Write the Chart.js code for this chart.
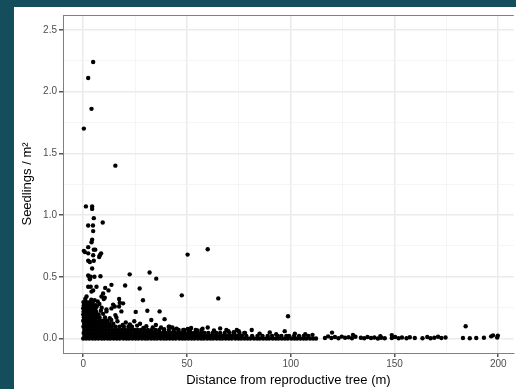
<!DOCTYPE html>
<html>
<head>
<meta charset="utf-8">
<script src="https://cdn.jsdelivr.net/npm/chart.js@4.4.1/dist/chart.umd.min.js"></script>
<style>
  html, body { margin: 0; padding: 0; background: #144e5c; width: 516px; height: 389px; overflow: hidden; }
  #panel { position: absolute; left: 14px; top: 7px; width: 502px; height: 382px; background: #ffffff; }
  canvas { display: block; }
</style>
</head>
<body>
<div id="panel"><canvas id="grafico" width="502" height="382"></canvas></div>
<script>
// eixos
const xGrid = [0, 25, 50, 75, 100, 125, 150, 175, 200];
const xLabels = [0, 50, 100, 150, 200];
const yGrid = [0, 0.25, 0.5, 0.75, 1, 1.25, 1.5, 1.75, 2, 2.25, 2.5];
const yLabels = [0, 0.5, 1, 1.5, 2, 2.5];

// pontos isolados (distância, plântulas/m2)
const outX = [4.8, 2.4, 4.0, 0.3, 15.5, 1.3, 4.3, 4.3, 5.1, 9.4,
              2.4, 4.7, 4.8, 4.3, 4.0, 2.4, 0.3, 0.8, 5.1, 5.8,
              2.4, 4.8, 8.0, 8.6, 7.7, 60.0, 50.3, 2.4, 5.1, 3.2,
              4.3, 2.9, 2.4, 3.6, 5.4, 8.3, 3.2, 22.4, 32.0, 35.2,
              20.2, 27.2, 28.8, 47.5, 13.6, 10.6, 12.2, 6.4, 2.4, 3.6,
              4.0, 4.8, 1.6, 8.8, 9.6, 10.4, 9.9, 17.3, 19.2, 11.2,
              13.6, 14.4, 17.3, 18.4, 15.5, 65.1, 25.3, 30.9, 36.8, 39.2,
              32.8, 41.2, 27.4, 30.4, 98.7, 184.3, 9.6, 8.5, 10.5, 12.8,
              16.5, 20.5, 22.5, 24.6, 35.0, 37.5, 45.0, 48.2, 60.0, 66.0,
              50.4, 55.0, 70.0, 72.5, 78.0, 81.2, 89.9, 97.1, 119.9, 102.0,
              107.0, 130.0, 148.7, 143.2, 197.5, 7.0, 6.5, 17.6, 15.2, 16.0,
              85.0, 93.0, 110.5, 11.2, 41.6, 1.0, 3.9, 5.5, 7.8, 8.9,
              11.5, 13.5, 19.0, 23.5, 26.0, 29.0, 33.5, 39.0, 43.0, 52.0,
              57.5, 63.0, 69.0, 75.0, 74.0];
const outY = [2.24, 2.11, 1.86, 1.70, 1.40, 1.07, 1.07, 1.05, 0.975, 0.94,
              0.915, 0.915, 0.87, 0.80, 0.78, 0.74, 0.71, 0.70, 0.72, 0.72,
              0.69, 0.675, 0.675, 0.69, 0.66, 0.723, 0.68, 0.63, 0.63, 0.62,
              0.567, 0.50, 0.51, 0.50, 0.50, 0.505, 0.48, 0.52, 0.535, 0.485,
              0.43, 0.405, 0.31, 0.35, 0.435, 0.41, 0.39, 0.42, 0.42, 0.42,
              0.38, 0.39, 0.34, 0.34, 0.365, 0.33, 0.32, 0.32, 0.285, 0.235,
              0.244, 0.275, 0.26, 0.22, 0.19, 0.325, 0.216, 0.225, 0.22, 0.157,
              0.15, 0.095, 0.12, 0.10, 0.18, 0.10, 0.20, 0.225, 0.17, 0.165,
              0.14, 0.13, 0.115, 0.14, 0.11, 0.09, 0.08, 0.07, 0.09, 0.082,
              0.077, 0.065, 0.06, 0.052, 0.045, 0.069, 0.05, 0.06, 0.048, 0.04,
              0.035, 0.03, 0.028, 0.02, 0.026, 0.30, 0.26, 0.29, 0.26, 0.17,
              0.04, 0.035, 0.03, 0.22, 0.095, 0.32, 0.315, 0.31, 0.28, 0.25,
              0.14, 0.15, 0.11, 0.095, 0.105, 0.085, 0.09, 0.075, 0.09, 0.085,
              0.08, 0.065, 0.07, 0.06, 0.07];

// faixa densa perto de zero: nível de plântulas e distâncias de cada nível
const bandLevels = [0, 0.022, 0.045, 0.07, 0.095, 0.12, 0.145, 0.17, 0.195, 0.22, 0.245, 0.27, 0.295];
const bandX = [
  [0, 1.4, 2.9, 4.5, 5.8, 7.3, 8.9, 10.2, 11.8, 13.1, 14.7, 16.2, 17.6, 19.3, 20.8, 22.1, 23.7, 25.2, 26.6, 28.3,
   29.8, 31.1, 32.7, 34.2, 35.6, 37.3, 38.8, 40.1, 41.7, 43.2, 44.6, 46.3, 47.8, 49.1, 50.7, 52.2, 53.6, 55.3, 56.8, 58.1,
   59.7, 61.2, 62.6, 64.3, 65.8, 67.1, 68.7, 70.2, 71.6, 73.3, 74.8, 76.1, 77.7, 79.2, 80.6, 82.3, 83.8, 85.1, 86.7, 88.2,
   89.6, 91.3, 92.8, 94.1, 95.7, 97.2, 98.6, 100.3, 101.8, 103.1, 104.7, 106.2, 107.6, 109.3, 110.8, 112.2],
  [0.6, 2.1, 3.7, 5.2, 6.6, 8.1, 9.6, 11.0, 12.5, 14.0, 15.5, 17.0, 18.4, 19.9, 21.4, 22.9, 24.4, 25.8, 27.3, 28.8,
   30.3, 31.8, 33.2, 34.7, 36.2, 37.7, 39.2, 40.6, 42.1, 43.6, 45.1, 46.6, 48.0, 49.5, 51.0, 52.5, 54.0, 55.4, 56.9, 58.4,
   59.9, 61.4, 62.8, 64.3, 65.8, 67.3, 68.8, 70.2, 71.7, 73.2, 74.6, 76.5, 78.6, 81.4, 84.0, 86.4, 88.9, 91.0, 93.7, 95.5,
   97.9, 99.2, 101.6, 104.0, 106.3, 108.5],
  [0.2, 1.7, 3.2, 4.8, 6.3, 7.9, 9.3, 10.8, 12.4, 13.9, 15.4, 16.9, 18.5, 20.0, 21.5, 23.0, 24.6, 26.1, 27.6, 29.1,
   30.7, 32.2, 33.7, 35.2, 36.8, 38.3, 39.8, 41.4, 42.9, 44.4, 46.0, 47.5, 49.0, 50.6, 52.1, 53.7, 55.2, 56.8, 58.5, 60.3,
   62.4, 64.1, 66.0, 68.2, 70.4, 72.9, 75.3, 77.6],
  [0.5, 2.0, 3.5, 5.0, 6.5, 8.0, 9.5, 11.0, 12.5, 14.0, 15.5, 17.0, 18.6, 20.1, 21.6, 23.1, 24.7, 26.2, 27.8, 29.5,
   31.2, 33.0, 34.8, 36.6, 38.9, 41.3, 43.6, 46.0, 48.7, 51.5, 54.2, 57.0],
  [0.1, 1.6, 3.1, 4.6, 6.1, 7.6, 9.1, 10.6, 12.1, 13.8, 15.6, 17.5, 19.6, 21.8],
  [0.4, 1.9, 3.4, 4.9, 6.4, 7.9, 9.4, 11.0, 12.8, 14.5],
  [0, 1.5, 3.0, 4.5, 6.0, 7.6, 9.2, 10.9],
  [0.3, 1.8, 3.3, 4.8, 6.3, 7.9],
  [0, 1.5, 3.0, 4.5, 6.0, 7.4],
  [0.2, 1.7, 3.2, 4.7, 6.2],
  [0, 1.5, 3.0, 4.5, 5.9],
  [0.3, 1.8, 3.3, 4.8, 6.0],
  [0.1, 1.6, 3.1, 4.6]
];

// cauda longe da árvore
const tailX = [116.5, 118.0, 119.6, 121.3, 123.0, 124.6, 126.2, 127.9, 129.5, 131.2,
               133.8, 135.4, 137.0, 138.7, 140.3, 142.0, 143.6, 145.3,
               148.7, 150.3, 152.0, 153.6, 155.8, 157.4, 159.8,
               163.5, 165.8, 167.4, 169.2, 171.0, 172.6, 174.6,
               183.0, 186.3, 189.4, 193.1, 196.6, 199.5, 199.8];
const tailY = [0.005, 0.018, 0.004, 0.012, 0.003, 0.016, 0.006, 0.010, 0.002, 0.014,
               0.006, 0.002, 0.012, 0.004, 0.009, 0.001, 0.007, 0.003,
               0.004, 0.012, 0.002, 0.008, 0.003, 0.010, 0.005,
               0.003, 0.012, 0.002, 0.006, 0.015, 0.004, 0.008,
               0.004, 0.003, 0.005, 0.006, 0.018, 0.008, 0.024];

// monta os pontos
const pontos = [];
bandLevels.forEach((nivel, i) => {
    bandX[i].forEach(d => pontos.push({ x: d, y: nivel }));
});
tailX.forEach((d, i) => pontos.push({ x: d, y: tailY[i] }));
outX.forEach((d, i) => pontos.push({ x: d, y: outY[i] }));

const fonte = "'Liberation Sans', Arial, Helvetica, sans-serif";

// linha superior do painel
const bordaTopo = {
    id: 'bordaTopo',
    afterDraw(chart) {
        const { ctx, chartArea } = chart;
        ctx.save();
        ctx.strokeStyle = '#808080';
        ctx.lineWidth = 1;
        ctx.beginPath();
        ctx.moveTo(chartArea.left, chartArea.top + 0.5);
        ctx.lineTo(chartArea.right, chartArea.top + 0.5);
        ctx.stroke();
        ctx.restore();
    }
};

const ctx = document.getElementById('grafico').getContext('2d');
new Chart(ctx, {
    type: 'scatter',
    data: {
        datasets: [{
            data: pontos,
            pointRadius: 2.2,
            pointHoverRadius: 2.2,
            pointBackgroundColor: '#000000',
            pointBorderWidth: 0,
            borderColor: '#000000',
            showLine: false
        }]
    },
    options: {
        responsive: false,
        animation: false,
        devicePixelRatio: 1,
        layout: { padding: { top: 7, right: 0, left: 0, bottom: 0 } },
        plugins: { legend: { display: false }, tooltip: { enabled: false } },
        scales: {
            x: {
                type: 'linear',
                min: -9.74,
                max: 207.5,
                afterBuildTicks: axis => { axis.ticks = xGrid.map(v => ({ value: v })); },
                afterFit: axis => { axis.height = 36; },
                ticks: {
                    autoSkip: false,
                    maxRotation: 0,
                    padding: 1,
                    color: '#4d4d4d',
                    font: { family: fonte, size: 10 },
                    callback: v => xLabels.includes(v) ? String(v) : ''
                },
                grid: {
                    color: c => xLabels.includes(c.tick.value) ? '#ebebeb' : '#f3f3f3',
                    lineWidth: c => xLabels.includes(c.tick.value) ? 1.5 : 0.8,
                    tickColor: c => xLabels.includes(c.tick.value) ? '#555555' : 'rgba(0,0,0,0)',
                    tickLength: 4
                },
                border: { display: true, color: '#808080', width: 1 },
                title: {
                    display: true,
                    text: 'Distance from reproductive tree (m)',
                    color: '#000000',
                    font: { family: fonte, size: 13 },
                    padding: { top: 0, bottom: 1 }
                }
            },
            y: {
                type: 'linear',
                min: -0.117,
                max: 2.62,
                afterBuildTicks: axis => { axis.ticks = yGrid.map(v => ({ value: v })); },
                afterFit: axis => { axis.width = 49; },
                ticks: {
                    autoSkip: false,
                    padding: 2,
                    color: '#4d4d4d',
                    font: { family: fonte, size: 10 },
                    callback: v => yLabels.includes(v) ? v.toFixed(1) : ''
                },
                grid: {
                    color: c => yLabels.includes(c.tick.value) ? '#ebebeb' : '#f3f3f3',
                    lineWidth: c => yLabels.includes(c.tick.value) ? 1.5 : 0.8,
                    tickColor: c => yLabels.includes(c.tick.value) ? '#555555' : 'rgba(0,0,0,0)',
                    tickLength: 4
                },
                border: { display: true, color: '#808080', width: 1 },
                title: {
                    display: true,
                    text: 'Seedlings / m²',
                    color: '#000000',
                    font: { family: fonte, size: 13 },
                    padding: { top: 6, bottom: 0 }
                }
            }
        }
    },
    plugins: [bordaTopo]
});
</script>
</body>
</html>
